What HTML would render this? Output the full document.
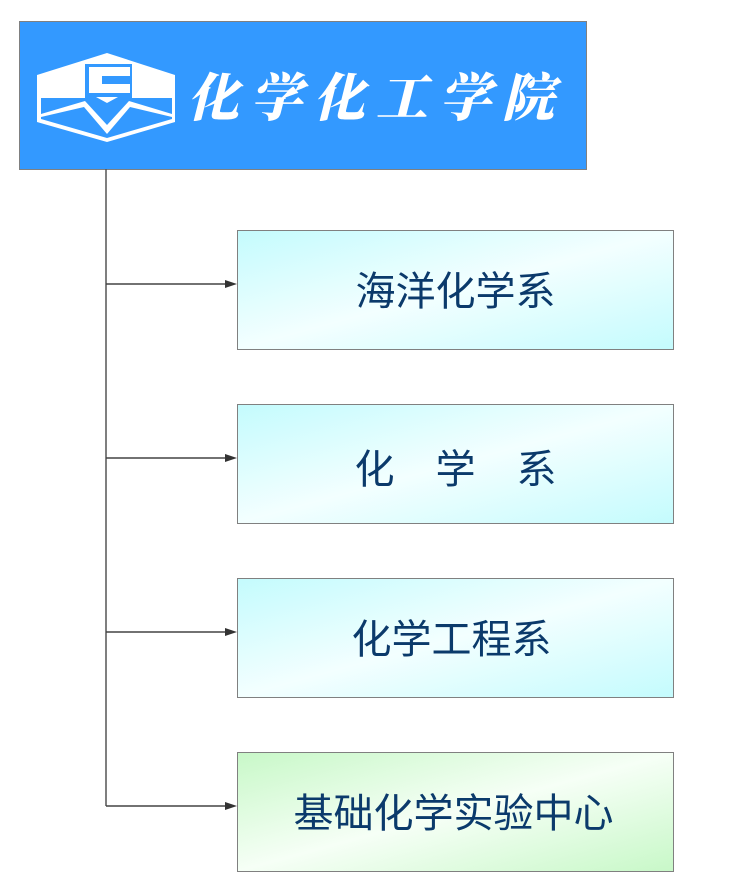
<!DOCTYPE html>
<html>
<head>
<meta charset="utf-8">
<style>
html,body{margin:0;padding:0;background:#fff;}
body{width:731px;height:892px;position:relative;overflow:hidden;}
.hdr{position:absolute;left:19px;top:21px;width:566px;height:147px;background:#3399ff;border:1px solid #808080;}
.title{position:absolute;left:187px;top:68px;font-family:"Liberation Serif","Noto Serif CJK SC",serif;font-weight:900;font-size:52px;line-height:64px;color:#fff;letter-spacing:11px;white-space:nowrap;font-style:italic;}
.box{position:absolute;left:237px;width:435px;height:118px;border:1px solid #808080;
 font-family:"Liberation Sans","Noto Sans CJK SC",sans-serif;font-size:40px;color:#0b3a6b;
 display:flex;align-items:center;justify-content:center;white-space:nowrap;}
.box span.t{position:relative;top:-2px;}
.cy{background:linear-gradient(to bottom right,#c4fbfd 0%,#f3ffff 50%,#c4fbfd 100%);}
.gr{background:linear-gradient(to bottom right,#c8f8c8 0%,#f6fff6 50%,#c8f8c8 100%);}
svg{position:absolute;left:0;top:0;}
</style>
</head>
<body>
<div class="hdr"></div>
<svg width="731" height="892" viewBox="0 0 731 892">
  <polygon points="37,75 107,53 175,75 175,122 107,142 37,122" fill="#fff"/>
  <polygon points="41,98 85,98 85,64 132,64 132,98 172,98 172,119 107,138 41,119" fill="#3399ff"/>
  <polygon points="89,67 130,67 130,76 102,76 102,84 130,84 130,93 89,93" fill="#fff"/>
  <polygon points="96,97 118,97 107,103" fill="#fff"/>
  <polygon points="41,114 85,101 107,125 129,101 172,114 172,117 130,107 107,134 84,107 41,117" fill="#fff"/>
  <line x1="106" y1="169" x2="106" y2="806" stroke="#555" stroke-width="1.5"/>
  <g stroke="#444" stroke-width="1.5">
    <line x1="106" y1="284" x2="228" y2="284"/>
    <line x1="106" y1="458" x2="228" y2="458"/>
    <line x1="106" y1="632" x2="228" y2="632"/>
    <line x1="106" y1="806" x2="228" y2="806"/>
  </g>
  <g fill="#333">
    <polygon points="225,280 237,284 225,288"/>
    <polygon points="225,454 237,458 225,462"/>
    <polygon points="225,628 237,632 225,636"/>
    <polygon points="225,802 237,806 225,810"/>
  </g>
</svg>
<div class="title">化学化工学院</div>
<div class="box cy" style="top:230px;"><span class="t">海洋化学系</span></div>
<div class="box cy" style="top:404px;"><span class="t" style="top:2px">化<span style="display:inline-block;width:41px"></span>学<span style="display:inline-block;width:41px"></span>系</span></div>
<div class="box cy" style="top:578px;"><span class="t" style="margin-right:8px">化学工程系</span></div>
<div class="box gr" style="top:752px;"><span class="t" style="margin-right:4px">基础化学实验中心</span></div>
</body>
</html>
